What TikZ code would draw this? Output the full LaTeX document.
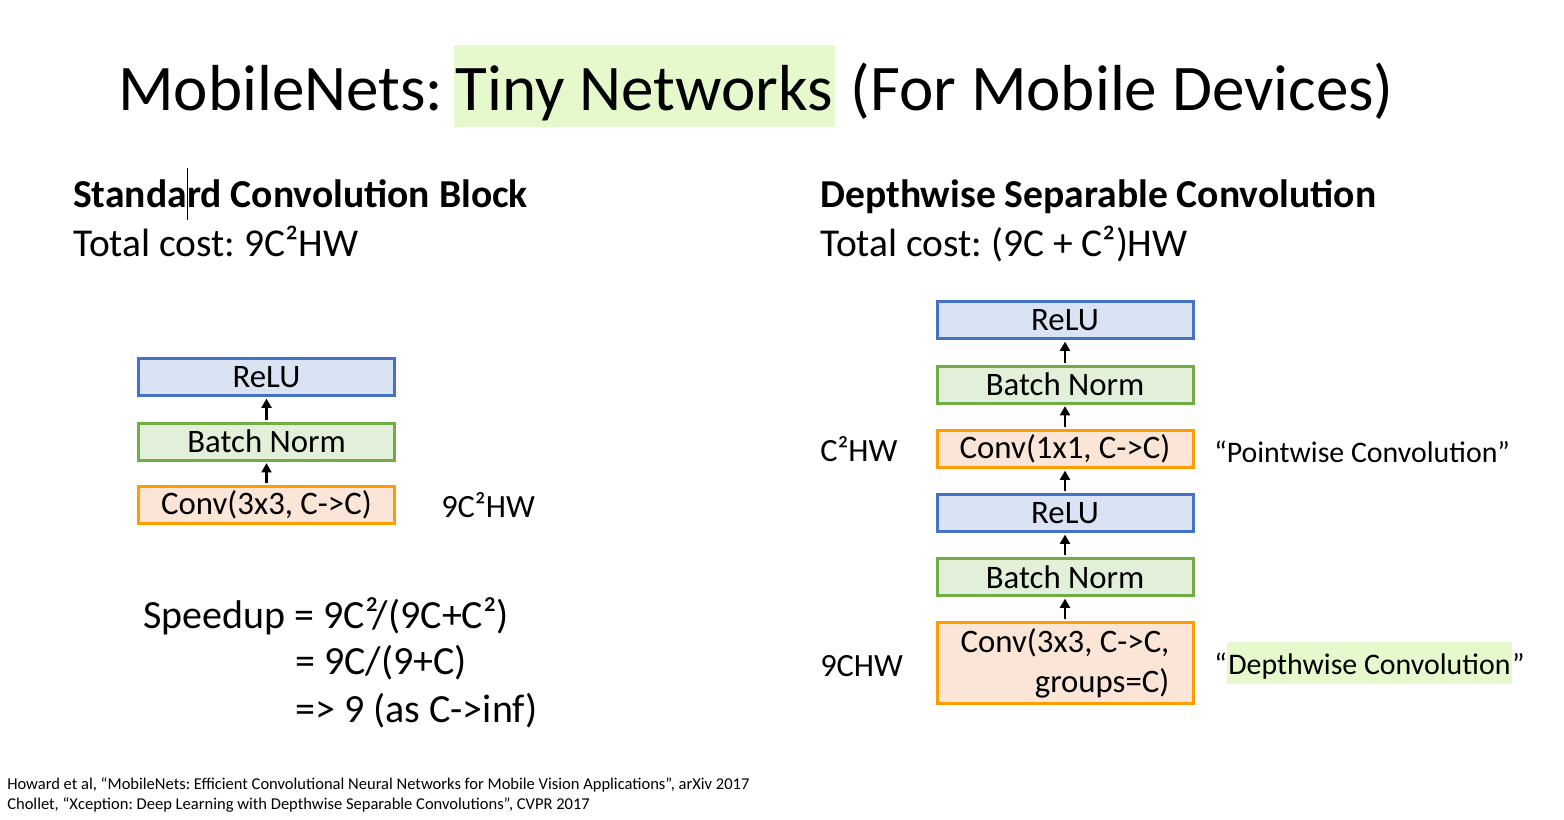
\documentclass[tikz,border=0pt]{standalone}
\usepackage{fontspec}
\setmainfont{Carlito}
\frenchspacing
\usetikzlibrary{arrows.meta}
\definecolor{reluline}{HTML}{4472C4}
\definecolor{relufill}{HTML}{DAE3F3}
\definecolor{bnline}{HTML}{70AD47}
\definecolor{bnfill}{HTML}{E2F0D9}
\definecolor{convline}{HTML}{FF9C00}
\definecolor{convfill}{HTML}{FBE5D6}
\definecolor{hilite}{HTML}{E5F9CC}
\tikzset{
  layer/.style={draw, line width=2.25pt, minimum width=192pt, minimum height=27.75pt,
    inner sep=0pt, font=\fontsize{24.6}{28}\selectfont},
  relubox/.style={layer, draw=reluline, fill=relufill},
  bnbox/.style={layer, draw=bnline, fill=bnfill},
  convbox/.style={layer, draw=convline, fill=convfill},
  flow/.style={-{Triangle[length=7pt,width=7.5pt]}, line width=2pt, shorten <=1.2pt, shorten >=1.2pt},
  txt/.style={inner sep=0pt, anchor=base west},
  heading/.style={txt, font=\bfseries\fontsize{29.7}{35}\selectfont},
  costtxt/.style={txt, font=\fontsize{29.6}{35}\selectfont},
  sidelabel/.style={txt, font=\fontsize{24.3}{28}\selectfont},
  notelabel/.style={txt, font=\fontsize{22.4}{26}\selectfont},
  speedtxt/.style={txt, font=\fontsize{30}{36}\selectfont},
  reftxt/.style={txt, font=\fontsize{12.4}{15}\selectfont},
}
\begin{document}
\begin{tikzpicture}[x=0.75pt, y=-0.75pt]
\useasboundingbox (0,0) rectangle (1564,819);
\fill[white] (0,0) rectangle (1564,819);

% title line with highlighted middle part
\begin{scope}[every node/.style={txt, font=\fontsize{48.8}{56}\selectfont}]
  \node (t1) at (118,110) {MobileNets:};
  \node[fill=hilite, inner xsep=1.5pt, text height=48.75pt, text depth=12.75pt] (t2)
    at ([xshift=7.5pt]t1.base east) {Tiny Networks};
  \node (t3) at ([xshift=11.5pt]t2.base east) {(For Mobile Devices)};
\end{scope}

% left column: standard convolution
\node[heading] (lhead) at (73,207) {Standard Convolution Block};
\draw[line width=0.75pt] (187,168) -- (187,220);
\node[costtxt] (lcost) at (73,256) {Total cost: 9C²HW};

\node[relubox] (lrelu) at (266.5,377) {ReLU};
\node[bnbox]   (lbn)   at (266.5,441.5) {Batch Norm};
\node[convbox] (lconv) at (266.5,505) {Conv(3x3, C->C)};
\draw[flow] (lconv) -- (lbn);
\draw[flow] (lbn) -- (lrelu);
\node[sidelabel] (lcostlabel) at (441,517) {9C²HW};

\node[speedtxt] (sp1) at (143,628) {Speedup = 9C²/(9C+C²)};
\node[speedtxt] (sp2) at (295,674) {= 9C/(9+C)};
\node[speedtxt] (sp3) at (295,722) {=> 9 (as C->inf)};

% right column: depthwise separable convolution
\node[heading] (rhead) at (820,207) {Depthwise Separable Convolution};
\node[costtxt] (rcost) at (820,256) {Total cost: (9C + C²)HW};

\node[relubox] (rrelu2) at (1065,320) {ReLU};
\node[bnbox]   (rbn2)   at (1065,384.5) {Batch Norm};
\node[convbox] (rpw)    at (1065,449) {Conv(1x1, C->C)};
\node[relubox] (rrelu1) at (1065,513) {ReLU};
\node[bnbox]   (rbn1)   at (1065,577) {Batch Norm};
\node[convbox, minimum height=60.75pt, align=right, font=\fontsize{24.6}{30}\selectfont]
  (rdw) at (1065,663) {Conv(3x3, C->C,\\groups=C)};
\draw[flow] (rdw) -- (rbn1);
\draw[flow] (rbn1) -- (rrelu1);
\draw[flow] (rrelu1) -- (rpw);
\draw[flow] (rpw) -- (rbn2);
\draw[flow] (rbn2) -- (rrelu2);

\node[sidelabel] (pwcost) at (820,461) {C²HW};
\node[sidelabel] (dwcost) at (820,676) {9CHW};
\node[notelabel] (pwname) at (1214,462) {“Pointwise Convolution”};
\node[notelabel] (dwq1) at (1214,674) {“};
\node[notelabel, fill=hilite, inner xsep=0.75pt, text height=24pt, text depth=7.5pt]
  (dwname) at (dwq1.base east) {Depthwise Convolution};
\node[notelabel] (dwq2) at (dwname.base east) {”};

% references
\node[reftxt] (ref1) at (7,789) {Howard et al, “MobileNets: Efficient Convolutional Neural Networks for Mobile Vision Applications”, arXiv 2017};
\node[reftxt] (ref2) at (7,809) {Chollet, “Xception: Deep Learning with Depthwise Separable Convolutions”, CVPR 2017};
\end{tikzpicture}
\end{document}
